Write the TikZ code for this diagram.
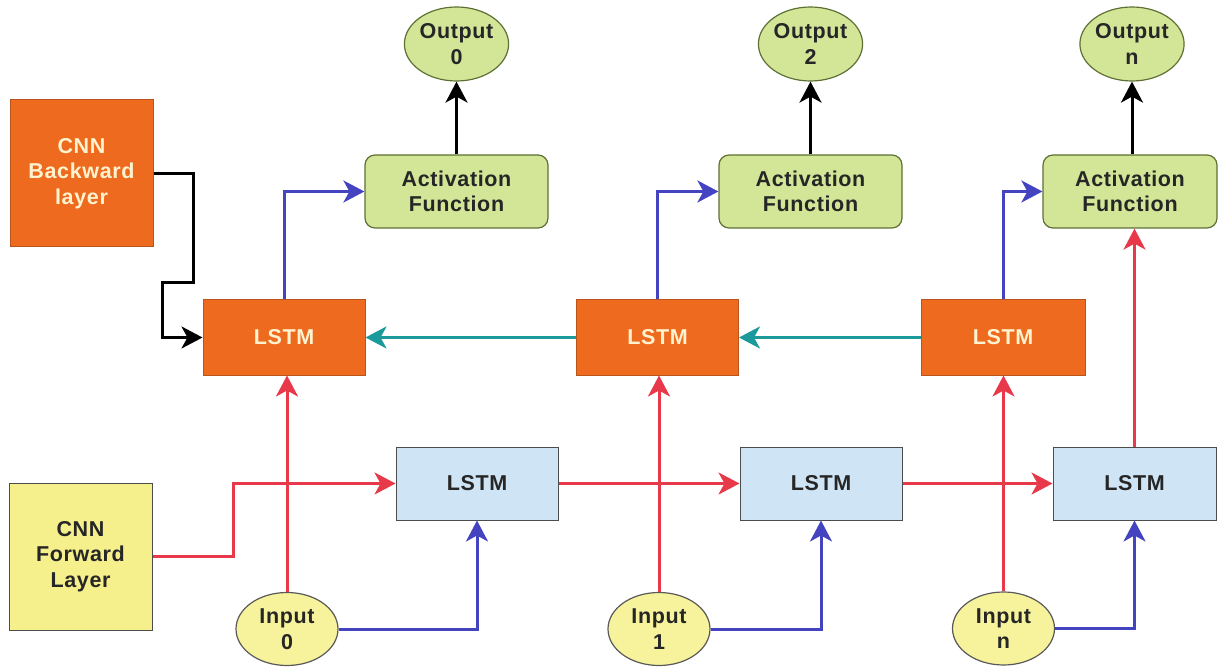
\documentclass[tikz,border=0pt]{standalone}
\usepackage{fontspec}
\setmainfont{Liberation Sans}[LetterSpace=3]
\usetikzlibrary{arrows.meta,shapes.geometric}
\definecolor{borange}{HTML}{EE6A1F}
\definecolor{borangeD}{HTML}{B9541A}
\definecolor{fblue}{HTML}{CFE4F4}
\definecolor{fyellow}{HTML}{F5EF8C}
\definecolor{eyellow}{HTML}{F7F39C}
\definecolor{agreen}{HTML}{D3E597}
\definecolor{agreenD}{HTML}{5E7034}
\definecolor{lred}{HTML}{E8394A}
\definecolor{lblue}{HTML}{4444C0}
\definecolor{lteal}{HTML}{1A9A9A}
\definecolor{cream}{HTML}{FFF3CF}
\tikzset{
  lbl/.style={font=\fontsize{21.5}{25.5}\selectfont\bfseries, align=center, inner sep=0pt},
  bwd/.style={lbl, rectangle, fill=borange, draw=borangeD, line width=1pt, text=cream, minimum width=162pt, minimum height=75pt},
  fwd/.style={lbl, rectangle, fill=fblue, draw=black!70, line width=1pt, text=black!85, minimum width=162pt, minimum height=73pt},
  act/.style={lbl, rectangle, rounded corners=10pt, fill=agreen, draw=agreenD, line width=1.2pt, text=black!85, minimum width=183pt, minimum height=73pt},
  oell/.style={lbl, ellipse, fill=agreen, draw=agreenD, line width=1.2pt, text=black!85, minimum width=103pt, minimum height=74pt},
  iell/.style={lbl, ellipse, fill=eyellow, draw=black!65, line width=1.2pt, text=black!85, minimum width=102pt, minimum height=73pt},
  arr/.style={line width=3pt, -{Stealth[length=21pt,width=22pt,inset=6pt]}},
  redarr/.style={arr, draw=lred},
  bluearr/.style={arr, draw=lblue},
  tealarr/.style={arr, draw=lteal},
  blackarr/.style={arr, draw=black},
}
\begin{document}
\begin{tikzpicture}[x=1pt,y=-1pt]
\useasboundingbox (0,0) rectangle (1229,668);
% CNN blocks
\node[lbl, rectangle, fill=borange, draw=borangeD, line width=1pt, text=cream, minimum width=143pt, minimum height=147pt] (cnnb) at (81.5,173.5) {CNN\\Backward\\layer};
\node[lbl, rectangle, fill=fyellow, draw=black!70, line width=1pt, text=black!85, minimum width=143pt, minimum height=147pt] (cnnf) at (80.5,556.5) {CNN\\Forward\\Layer};
% backward LSTMs
\node[bwd] (b1) at (284,337.5) {LSTM};
\node[bwd] (b2) at (657.5,337.5) {LSTM};
\node[bwd, minimum width=164pt] (b3) at (1003,337.5) {LSTM};
% forward LSTMs
\node[fwd] (f1) at (477,483.5) {LSTM};
\node[fwd] (f2) at (821,483.5) {LSTM};
\node[fwd, minimum width=163pt] (f3) at (1134.5,483.5) {LSTM};
% activations
\node[act] (a1) at (456.5,191.5) {Activation\\Function};
\node[act] (a2) at (810.5,191.5) {Activation\\Function};
\node[act, minimum width=174pt] (a3) at (1130,191.5) {Activation\\Function};
% outputs
\node[oell] (o1) at (456.5,44) {Output\\0};
\node[oell] (o2) at (810.5,44) {Output\\2};
\node[oell] (o3) at (1132,44) {Output\\n};
% inputs
\node[iell] (i1) at (287,629) {Input\\0};
\node[iell] (i2) at (659,629) {Input\\1};
\node[iell] (i3) at (1003.5,628.5) {Input\\n};
% coordinates
\coordinate (cb1) at (193,173.5);
\coordinate (cb2) at (193,283);
\coordinate (cb3) at (162,283);
\coordinate (cb4) at (162,337.5);
% connectors
\draw[blackarr] (cnnb.east |- cb1) -- (cb1) -- (cb2) -- (cb3) -- (cb4) -- (b1.west);
\draw[bluearr] (b1.north) |- (a1.west);
\draw[bluearr] (b2.north) |- (a2.west);
\draw[bluearr] (b3.north) |- (a3.west);
\draw[blackarr] (a1.north) -- (o1.south);
\draw[blackarr] (a2.north) -- (o2.south);
\draw[blackarr] (o3.south |- a3.north) -- (o3.south);
\draw[tealarr] (b2.west) -- (b1.east);
\draw[tealarr] (b3.west) -- (b2.east);
\draw[redarr] (i1.north) -- (i1.north |- b1.south);
\draw[redarr] (i2.north) -- (i2.north |- b2.south);
\draw[redarr] (i3.north) -- (i3.north |- b3.south);
\draw[bluearr] (i1.east) -| (f1.south);
\draw[bluearr] (i2.east) -| (f2.south);
\draw[bluearr] (i3.east) -| (f3.south);
\coordinate (cf1) at (233,556.5);
\coordinate (cf2) at (233,483.5);
\draw[redarr] (cnnf.east) -- (cf1) -- (cf2) -- (f1.west);
\draw[redarr] (f1.east) -- (f2.west);
\draw[redarr] (f2.east) -- (f3.west);
\draw[redarr] (f3.north) -- (a3.south -| f3.north);
\end{tikzpicture}
\end{document}
